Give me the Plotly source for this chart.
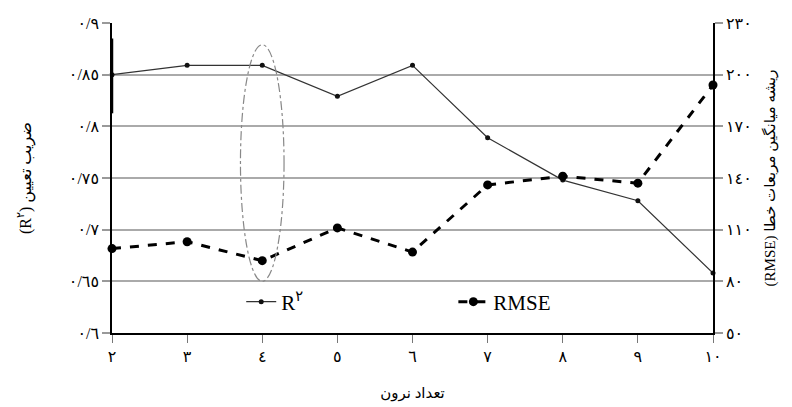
import plotly.graph_objects as go

neurons = [2, 3, 4, 5, 6, 7, 8, 9, 10]
x_labels = ["٢", "٣", "٤", "٥", "٦", "٧", "٨", "٩", "١٠"]
r2 = [0.850, 0.859, 0.859, 0.829, 0.859, 0.789, 0.748, 0.728, 0.658]
rmse = [99, 103, 92, 111, 97, 136, 141, 137, 194]

left_vals = [0.6, 0.65, 0.7, 0.75, 0.8, 0.85, 0.9]
left_text = ["٠/٦", "٠/٦٥", "٠/٧", "٠/٧٥", "٠/٨", "٠/٨٥", "٠/٩"]
right_vals = [50, 80, 110, 140, 170, 200, 230]
right_text = ["٥٠", "٨٠", "١١٠", "١٤٠", "١٧٠", "٢٠٠", "٢٣٠"]

FONT = "Liberation Serif, DejaVu Serif, DejaVu Sans"

fig = go.Figure()
fig.add_trace(go.Scatter(
    x=neurons, y=r2, name="R<sup>٢</sup>", mode="lines+markers",
    line=dict(color="#333333", width=1.2), marker=dict(size=5, color="#111111"),
    cliponaxis=False, yaxis="y", legend="legend"))
fig.add_trace(go.Scatter(
    x=neurons, y=rmse, name="RMSE", mode="lines+markers",
    line=dict(color="black", width=3, dash="dash"), marker=dict(size=9, color="black"),
    cliponaxis=False, yaxis="y2", legend="legend2"))

# highlight ellipse around the selected network (4 neurons)
fig.add_shape(type="circle", xref="x", yref="y", x0=3.71, x1=4.29, y0=0.65, y1=0.879,
              line=dict(color="#888888", width=1.2, dash="dashdot"))
# darker segment on the left spine
fig.add_shape(type="line", xref="paper", yref="y", x0=0, x1=0, y0=0.8126, y1=0.885,
              line=dict(color="black", width=2.5))

legend_common = dict(orientation="h", yanchor="middle", xanchor="left",
                     bgcolor="rgba(0,0,0,0)", font=dict(size=21, family=FONT))

fig.update_layout(
    width=792, height=407,
    margin=dict(l=112, r=79, t=23, b=74),
    paper_bgcolor="white", plot_bgcolor="white",
    font=dict(family=FONT, size=15, color="black"),
    showlegend=True,
    legend=dict(x=0.215, y=0.1, **legend_common),
    legend2=dict(x=0.568, y=0.1, **legend_common),
    xaxis=dict(range=[2, 10], tickvals=neurons, ticktext=x_labels, automargin=False,
               showgrid=False, zeroline=False, showline=True, linecolor="black", linewidth=1.5,
               ticks="outside", ticklen=8, tickcolor="#777777", tickwidth=1.2,
               tickfont=dict(size=16),
               title=dict(text="تعداد نرون", font=dict(size=15), standoff=24)),
    yaxis=dict(range=[0.6, 0.9], tickvals=left_vals, ticktext=left_text, automargin=False,
               showgrid=True, gridcolor="#aaaaaa", gridwidth=1.5, zeroline=False,
               showline=True, linecolor="black", linewidth=1.5,
               ticks="outside", ticklen=8, tickcolor="#999999", tickwidth=1.5,
               tickfont=dict(size=16),
               title=dict(text="(R<sup>٢</sup>) ضریب تعیین", font=dict(size=16), standoff=33)),
    yaxis2=dict(range=[50, 230], tickvals=right_vals, ticktext=right_text, automargin=False,
                overlaying="y", side="right", showgrid=False, zeroline=False,
                showline=True, linecolor="black", linewidth=1.5,
                ticks="outside", ticklen=8, tickcolor="#999999", tickwidth=1.5,
                tickfont=dict(size=16),
                title=dict(text="(RMSE) ریشه میانگین مربعات خطا", font=dict(size=15), standoff=14)),
)

fig.write_html("out.html", config={"displayModeBar": False},
               post_script="document.body.style.margin='0';")
